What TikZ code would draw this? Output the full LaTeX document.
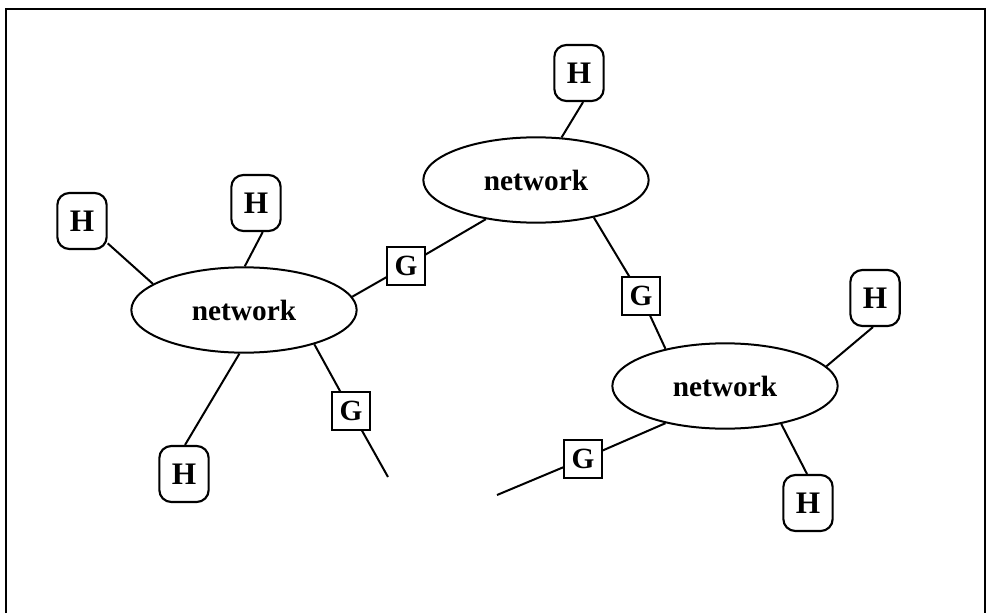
\documentclass[tikz,border=0pt]{standalone}
\usepackage{fontspec}
\setmainfont{Liberation Serif}
\usetikzlibrary{shapes.geometric}
\begin{document}
\begin{tikzpicture}[x=0.75pt,y=-0.75pt,
 net/.style={draw,ellipse,line width=1.5pt,minimum width=169pt,minimum height=64pt,inner sep=0pt,font=\fontsize{22}{24}\selectfont\bfseries},
 hbox/.style={draw,rounded corners=9pt,line width=1.6pt,minimum width=37pt,minimum height=42pt,inner sep=0pt,font=\fontsize{23.5}{25}\selectfont\bfseries},
 gbox/.style={draw,fill=white,line width=1.5pt,minimum size=28pt,inner sep=0pt,font=\fontsize{22}{23}\selectfont\bfseries},
 link/.style={line width=1.5pt}]
\useasboundingbox (0,0) rectangle (987,613);
\draw[line width=2pt] (6,613) -- (6,9) -- (985,9) -- (985,613);
\node[net] (nT) at (536,180) {network};
\node[net] (nL) at (244,310) {network};
\node[net] (nR) at (725,386) {network};
\node[hbox] (hT) at (579,73) {H};
\node[hbox] (hL1) at (82,221) {H};
\node[hbox] (hL2) at (256,203) {H};
\node[hbox] (hB) at (184,474) {H};
\node[hbox] (hR1) at (875,298) {H};
\node[hbox] (hR2) at (808,503) {H};
\node[gbox] (gTL) at (406,266) {G};
\node[gbox] (gTR) at (641,296) {G};
\node[gbox] (gL) at (351,411) {G};
\node[gbox] (gR) at (583,459) {G};
\coordinate (eL) at (388,477);
\coordinate (eR) at (497,495);
\draw[link] (hT.-82) -- (nT.59);
\draw[link] (hL1.-41) -- (nL.164);
\draw[link] (hL2.-77) -- (nL.89);
\draw[link] (hB.88) -- (nL.-96);
\draw[link] (hR1.-94) -- (nR.11);
\draw[link] (hR2.92) -- (nR.-34);
\draw[link] (nL.7) -- (gTL);
\draw[link] (gTL) -- (nT.-142);
\draw[link] (nT.-33) -- (gTR);
\draw[link] (gTR) -- (nR.148);
\draw[link] (nL.-26) -- (gL);
\draw[link] (gL) -- (eL);
\draw[link] (nR.-148) -- (gR);
\draw[link] (gR) -- (eR);
\end{tikzpicture}
\end{document}
